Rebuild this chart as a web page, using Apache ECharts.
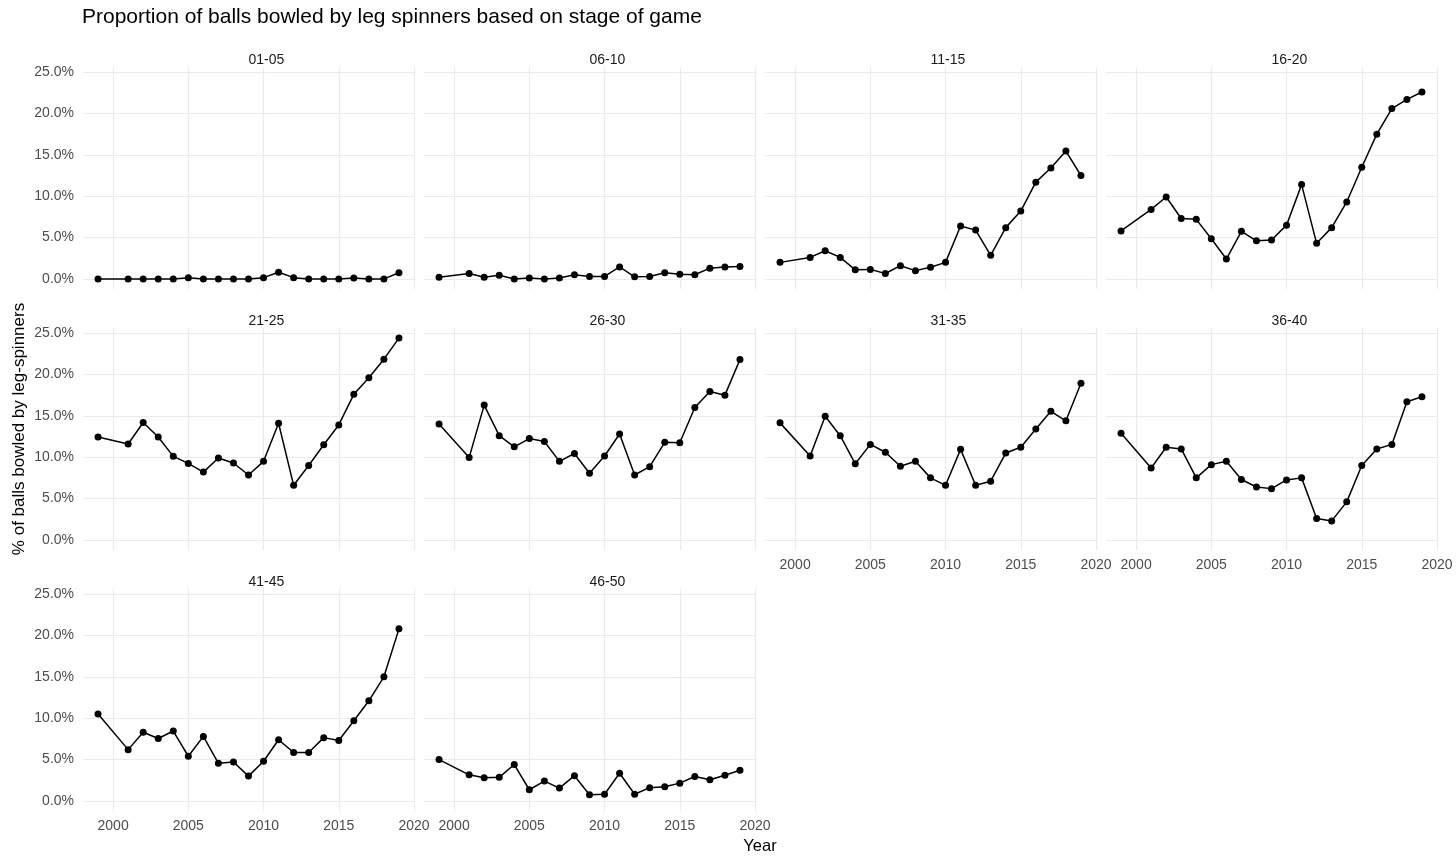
<!DOCTYPE html>
<html>
<head>
<meta charset="utf-8">
<script src="https://cdn.jsdelivr.net/npm/echarts@6/dist/echarts.min.js"></script>
<style>
html,body{margin:0;padding:0;background:#fff;}
#c{width:1456px;height:863px;}
</style>
</head>
<body>
<div id="c"></div>
<script>
// ---- data ----
const years = [1999, 2001, 2002, 2003, 2004, 2005, 2006, 2007, 2008, 2009, 2010, 2011, 2012, 2013, 2014, 2015, 2016, 2017, 2018, 2019];
const stages = ["01-05", "06-10", "11-15", "16-20", "21-25", "26-30", "31-35", "36-40", "41-45", "46-50"];
const s01_05 = [0, 0, 0, 0, 0, 0.15, 0, 0, 0, 0, 0.15, 0.8, 0.15, 0, 0, 0, 0.1, 0, 0, 0.75];
const s06_10 = [0.2, 0.65, 0.2, 0.45, 0, 0.1, 0, 0.1, 0.5, 0.3, 0.3, 1.45, 0.25, 0.3, 0.75, 0.55, 0.5, 1.3, 1.45, 1.5];
const s11_15 = [2.0, 2.6, 3.4, 2.6, 1.1, 1.15, 0.65, 1.6, 1.0, 1.4, 2.0, 6.4, 5.9, 2.85, 6.2, 8.2, 11.7, 13.4, 15.45, 12.5];
const s16_20 = [5.8, 8.4, 9.9, 7.3, 7.2, 4.85, 2.4, 5.75, 4.6, 4.7, 6.5, 11.4, 4.3, 6.2, 9.3, 13.5, 17.5, 20.6, 21.7, 22.6];
const s21_25 = [12.45, 11.6, 14.2, 12.45, 10.1, 9.25, 8.2, 9.9, 9.3, 7.85, 9.5, 14.1, 6.6, 9.0, 11.5, 13.9, 17.6, 19.6, 21.85, 24.4];
const s26_30 = [14.0, 9.95, 16.3, 12.6, 11.25, 12.25, 11.9, 9.5, 10.45, 8.05, 10.15, 12.8, 7.85, 8.85, 11.8, 11.75, 16.0, 17.95, 17.5, 21.8];
const s31_35 = [14.15, 10.15, 14.95, 12.6, 9.2, 11.55, 10.6, 8.9, 9.5, 7.5, 6.6, 10.95, 6.6, 7.1, 10.5, 11.2, 13.4, 15.55, 14.4, 18.95];
const s36_40 = [12.9, 8.7, 11.2, 11.0, 7.5, 9.1, 9.5, 7.3, 6.4, 6.2, 7.25, 7.5, 2.6, 2.3, 4.6, 9.0, 11.0, 11.55, 16.7, 17.3];
const s41_45 = [10.5, 6.2, 8.3, 7.55, 8.45, 5.4, 7.8, 4.55, 4.7, 3.0, 4.8, 7.4, 5.85, 5.85, 7.65, 7.3, 9.7, 12.1, 15.0, 20.8];
const s46_50 = [5.0, 3.15, 2.8, 2.85, 4.4, 1.35, 2.4, 1.55, 3.05, 0.75, 0.8, 3.35, 0.8, 1.6, 1.7, 2.15, 2.95, 2.55, 3.1, 3.7];
const seriesValues = [s01_05, s06_10, s11_15, s16_20, s21_25, s26_30, s31_35, s36_40, s41_45, s46_50];
const xTicks = [2000, 2005, 2010, 2015, 2020];
const yTicks = [0, 5, 10, 15, 20, 25];
const titleText = "Proportion of balls bowled by leg spinners based on stage of game";
const xTitle = "Year";
const yTitle = "% of balls bowled by leg-spinners";

// ---- layout ----
const FONT = '"Liberation Sans", Arial, Helvetica, sans-serif';
const colLeft = [83, 424, 765, 1106];
const rowTop = [67, 328, 589];
const PW = 331, PH = 222;
const showX = [false, false, false, false, false, false, true, true, true, true];

const grids = [], xAxes = [], yAxes = [], series = [], graphics = [];
stages.forEach((st, i) => {
  const r = Math.floor(i / 4), c = i % 4;
  grids.push({ left: colLeft[c], top: rowTop[r], width: PW, height: PH, containLabel: false });
  xAxes.push({
    type: 'value', gridIndex: i, min: 1998, max: 2020,
    axisLine: { show: false },
    axisTick: { show: false, customValues: xTicks },
    axisLabel: { show: showX[i], customValues: xTicks, color: '#4d4d4d', fontSize: 14, fontFamily: FONT, margin: 8,
      formatter: v => String(v) },
    splitLine: { show: true, lineStyle: { color: '#ebebeb', width: 1.2 } }
  });
  yAxes.push({
    type: 'value', gridIndex: i, min: -1.22, max: 25.62,
    axisLine: { show: false },
    axisTick: { show: false, customValues: yTicks },
    axisLabel: { show: c === 0, customValues: yTicks, color: '#4d4d4d', fontSize: 14, fontFamily: FONT, margin: 9,
      formatter: v => v.toFixed(1) + '%' },
    splitLine: { show: true, lineStyle: { color: '#ebebeb', width: 1.2 } }
  });
  series.push({
    type: 'line', xAxisIndex: i, yAxisIndex: i,
    data: years.map((y, k) => [y, seriesValues[i][k]]),
    symbol: 'circle', symbolSize: 7, showSymbol: true,
    itemStyle: { color: '#000' },
    lineStyle: { color: '#000', width: 1.5 },
    animation: false, silent: true
  });
  graphics.push({
    type: 'text', left: colLeft[c] + PW / 2, top: rowTop[r] - 14,
    style: { text: st, font: '14px ' + FONT, fill: '#1a1a1a', textAlign: 'center', textVerticalAlign: 'middle' }
  });
});

graphics.push({ type: 'text', x: 82, y: 17,
  style: { text: titleText, font: '21px ' + FONT, fill: '#000', textAlign: 'left', textVerticalAlign: 'middle' } });
graphics.push({ type: 'text', x: 760, y: 846,
  style: { text: xTitle, font: '16.5px ' + FONT, fill: '#000', textAlign: 'center', textVerticalAlign: 'middle' } });
graphics.push({ type: 'text', x: 19, y: 429, rotation: Math.PI / 2,
  style: { text: yTitle, font: '17px ' + FONT, fill: '#000', textAlign: 'center', textVerticalAlign: 'middle' } });

const chart = echarts.init(document.getElementById('c'), null, { renderer: 'canvas' });
chart.setOption({
  backgroundColor: '#fff',
  animation: false,
  grid: grids, xAxis: xAxes, yAxis: yAxes, series: series,
  graphic: graphics
});
</script>
</body>
</html>
